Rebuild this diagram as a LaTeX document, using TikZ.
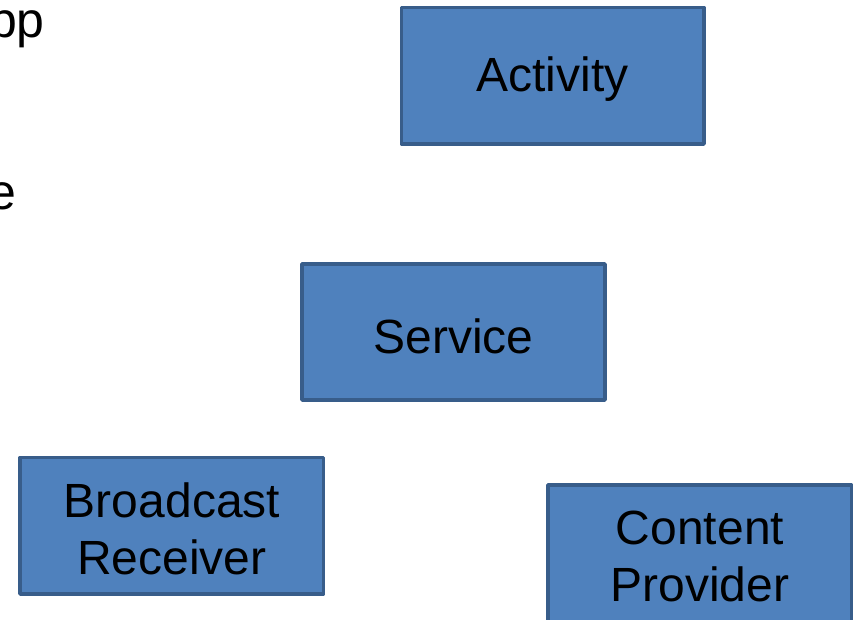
\documentclass[tikz,border=0pt]{standalone}
\usepackage{fontspec}
\setmainfont{Liberation Sans}
\definecolor{boxfill}{HTML}{4F81BD}
\definecolor{boxline}{HTML}{385D8A}
\begin{document}
\begin{tikzpicture}[x=1pt,y=-1pt,
  compbox/.style={draw=boxline,fill=boxfill,line width=3.8pt,line join=round},
  boxtext/.style={inner sep=0pt,align=center,text=black,
    font=\fontsize{48}{57}\selectfont},
  sidetext/.style={inner sep=0pt,anchor=base east,text=black,
    font=\fontsize{50}{60}\selectfont}]
  \useasboundingbox (0,0) rectangle (854,619);
  \clip (0,0) rectangle (854,619);
  % component boxes
  \draw[compbox] (401.5,7.5) rectangle (704,144);
  \draw[compbox] (302,264) rectangle (605,400);
  \draw[compbox] (20,457.5) rectangle (323.5,594);
  \draw[compbox] (548,485) rectangle (851.5,640);
  % labels
  \node[boxtext] (activity) at (552.5,79) {Activity};
  \node[boxtext] (service) at (453.5,336) {Service};
  \node[boxtext] (broadcast) at (172,529) {Broadcast\\Receiver};
  \node[boxtext] (content) at (700,556) {Content\\Provider};
  % text running off the left edge
  \node[sidetext] (toptext) at (45,37) {pp};
  \node[sidetext] (midtext) at (17,209) {e};
\end{tikzpicture}
\end{document}
